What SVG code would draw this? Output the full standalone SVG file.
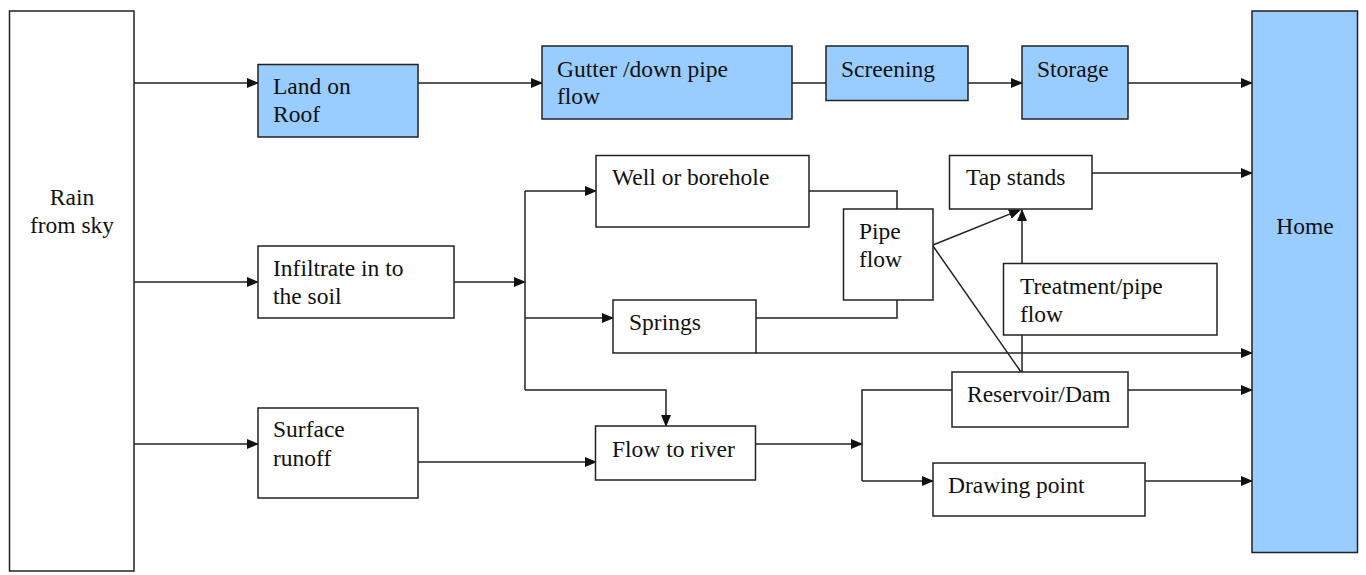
<svg xmlns="http://www.w3.org/2000/svg" width="1366" height="575" viewBox="0 0 1366 575">
<style>
.box{fill:#ffffff;stroke:#222;stroke-width:1.5}
.blue{fill:#99CCFF;stroke:#222;stroke-width:1.5}
.t{font-family:"Times New Roman",Times,"Liberation Serif","Nimbus Roman","Noto Serif","DejaVu Serif",serif;font-size:23.5px;fill:#111}
.c{fill:none;stroke:#222;stroke-width:1.5}
</style>
<defs>
<marker id="ah" markerUnits="userSpaceOnUse" markerWidth="12" markerHeight="10" refX="11" refY="5" orient="auto">
<path d="M0,0 L12,5 L0,10 Z" fill="#111"/>
</marker>
</defs>
<rect width="1366" height="575" fill="#ffffff"/>
<g id="connectors">
<path class="c" d="M134,83 H258" marker-end="url(#ah)"/>
<path class="c" d="M418,83 H542" marker-end="url(#ah)"/>
<path class="c" d="M792,83 H826"/>
<path class="c" d="M968,83 H1022" marker-end="url(#ah)"/>
<path class="c" d="M1128,83 H1252" marker-end="url(#ah)"/>
<path class="c" d="M134,282 H258" marker-end="url(#ah)"/>
<path class="c" d="M454,282 H525" marker-end="url(#ah)"/>
<path class="c" d="M525,191 V390"/>
<path class="c" d="M525,191 H596" marker-end="url(#ah)"/>
<path class="c" d="M525,318 H613" marker-end="url(#ah)"/>
<path class="c" d="M525,390 H666 V426" marker-end="url(#ah)"/>
<path class="c" d="M809,191 H897 V209"/>
<path class="c" d="M756,318 H897 V300"/>
<path class="c" d="M756,353 H1252" marker-end="url(#ah)"/>
<path class="c" d="M933,245 L1020,210" marker-end="url(#ah)"/>
<path class="c" d="M933,246 L1021,372"/>
<path class="c" d="M1022,263 V210" marker-end="url(#ah)"/>
<path class="c" d="M1022,335 V372"/>
<path class="c" d="M1092,173 H1252" marker-end="url(#ah)"/>
<path class="c" d="M134,444 H258" marker-end="url(#ah)"/>
<path class="c" d="M418,462 H596" marker-end="url(#ah)"/>
<path class="c" d="M756,444 H862" marker-end="url(#ah)"/>
<path class="c" d="M952,390 H862 V481"/>
<path class="c" d="M862,481 H933" marker-end="url(#ah)"/>
<path class="c" d="M1128,390 H1252" marker-end="url(#ah)"/>
<path class="c" d="M1145,481 H1252" marker-end="url(#ah)"/>
</g>
<g id="rain">
<rect class="box" x="9.5" y="11" width="124.5" height="560"/>
<text class="t" x="72" y="205" text-anchor="middle">Rain</text>
<text class="t" x="72" y="233" text-anchor="middle">from sky</text>
</g>
<g id="land-roof">
<rect class="blue" x="258" y="64.5" width="160" height="72.5"/>
<text class="t" x="273" y="94">Land on</text>
<text class="t" x="273" y="122">Roof</text>
</g>
<g id="gutter">
<rect class="blue" x="542" y="46" width="250" height="73"/>
<text class="t" x="557" y="77">Gutter /down pipe</text>
<text class="t" x="557" y="104">flow</text>
</g>
<g id="screening">
<rect class="blue" x="826" y="46" width="142" height="54.5"/>
<text class="t" x="841" y="77">Screening</text>
</g>
<g id="storage">
<rect class="blue" x="1022" y="46" width="106" height="73"/>
<text class="t" x="1037" y="77">Storage</text>
</g>
<g id="home">
<rect class="blue" x="1252" y="11" width="105.5" height="541.5"/>
<text class="t" x="1305" y="234" text-anchor="middle">Home</text>
</g>
<g id="infiltrate">
<rect class="box" x="258" y="246" width="196" height="72"/>
<text class="t" x="273" y="276">Infiltrate in to</text>
<text class="t" x="273" y="304">the soil</text>
</g>
<g id="surface">
<rect class="box" x="258" y="408" width="160" height="90"/>
<text class="t" x="273" y="437">Surface</text>
<text class="t" x="273" y="466">runoff</text>
</g>
<g id="well">
<rect class="box" x="596" y="155.5" width="213" height="71.5"/>
<text class="t" x="612" y="185">Well or borehole</text>
</g>
<g id="springs">
<rect class="box" x="613" y="300" width="143" height="53"/>
<text class="t" x="629" y="330">Springs</text>
</g>
<g id="pipe-flow">
<rect class="box" x="843.5" y="209" width="89.5" height="91"/>
<text class="t" x="859" y="239">Pipe</text>
<text class="t" x="859" y="267">flow</text>
</g>
<g id="tap-stands">
<rect class="box" x="949.5" y="155.5" width="142.5" height="53.5"/>
<text class="t" x="966" y="185">Tap stands</text>
</g>
<g id="treatment">
<rect class="box" x="1003.5" y="263.5" width="213.5" height="71.5"/>
<text class="t" x="1020" y="294">Treatment/pipe</text>
<text class="t" x="1020" y="322">flow</text>
</g>
<g id="flow-river">
<rect class="box" x="595.5" y="426" width="160" height="54"/>
<text class="t" x="612" y="457">Flow to river</text>
</g>
<g id="reservoir">
<rect class="box" x="952" y="372" width="176" height="55"/>
<text class="t" x="967" y="402">Reservoir/Dam</text>
</g>
<g id="drawing">
<rect class="box" x="933" y="463" width="212" height="53"/>
<text class="t" x="948" y="493">Drawing point</text>
</g>
</svg>
